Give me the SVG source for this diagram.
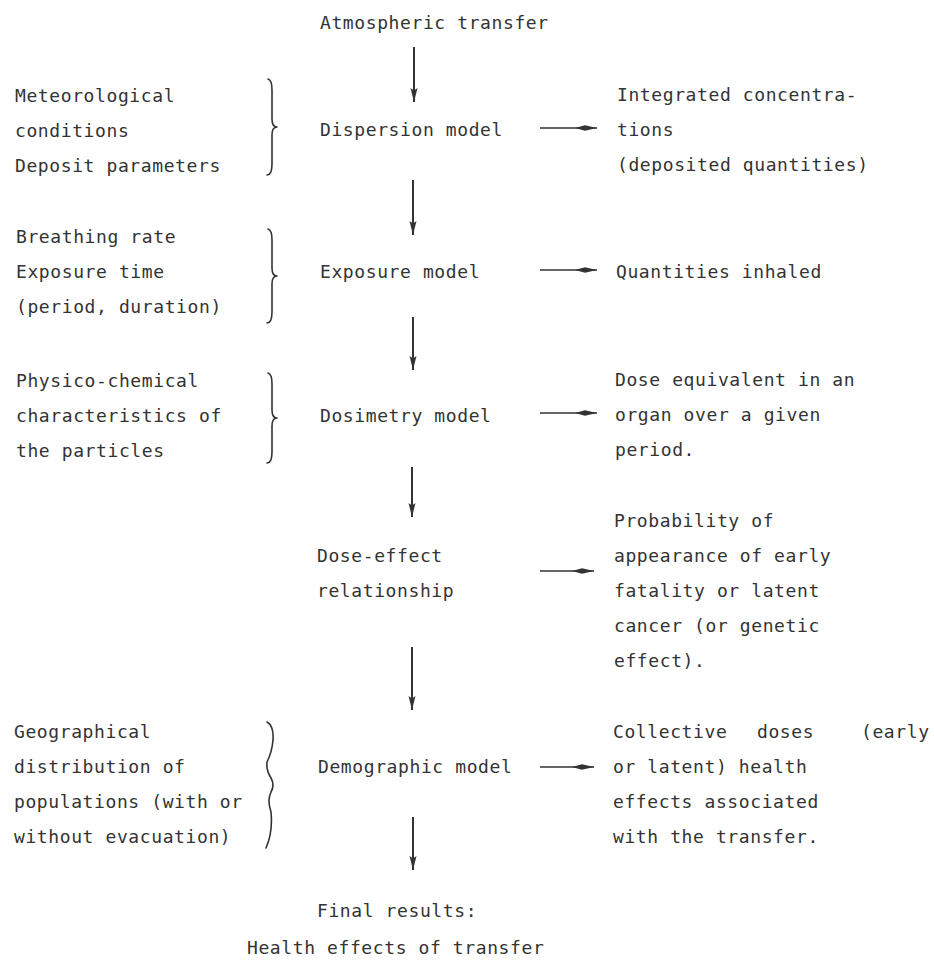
<svg xmlns="http://www.w3.org/2000/svg" width="934" height="963" viewBox="0 0 934 963">
<style>
text{font-family:"DejaVu Sans Mono","Liberation Mono",monospace;font-size:18px;letter-spacing:0.6px;fill:#333}
.ln{stroke:#333;stroke-width:1.6;fill:none}
.vl{stroke:#333;stroke-width:2;fill:none}
.br{stroke:#333;stroke-width:1.6;fill:none;stroke-linecap:round;stroke-linejoin:round}
</style>
<defs>
<marker id="vh" markerUnits="userSpaceOnUse" viewBox="0 0 14 8" refX="14" refY="4" markerWidth="14" markerHeight="8" orient="auto">
<path d="M0,0.5 L14,4 L0,7.5 L2.5,4 Z" fill="#333"/>
</marker>
<marker id="hh" markerUnits="userSpaceOnUse" viewBox="0 0 22 7" refX="22" refY="3.5" markerWidth="22" markerHeight="7" orient="auto">
<path d="M0,3.5 L10,0.8 L22,3.5 L10,6.2 Z" fill="#333"/>
</marker>
</defs>
<rect width="934" height="963" fill="#fff"/>

<g id="connectors">
<line class="vl" x1="414" y1="47" x2="414" y2="102" marker-end="url(#vh)"/>
<line class="vl" x1="413" y1="180" x2="413" y2="235" marker-end="url(#vh)"/>
<line class="vl" x1="413" y1="317" x2="413" y2="370" marker-end="url(#vh)"/>
<line class="vl" x1="412" y1="467" x2="412" y2="517" marker-end="url(#vh)"/>
<line class="vl" x1="412" y1="647" x2="412" y2="710" marker-end="url(#vh)"/>
<line class="vl" x1="413" y1="817" x2="413" y2="870" marker-end="url(#vh)"/>
<line class="ln" x1="540" y1="128" x2="597" y2="128" marker-end="url(#hh)"/>
<line class="ln" x1="540" y1="270" x2="597" y2="270" marker-end="url(#hh)"/>
<line class="ln" x1="540" y1="413" x2="597" y2="413" marker-end="url(#hh)"/>
<line class="ln" x1="540" y1="571" x2="594" y2="571" marker-end="url(#hh)"/>
<line class="ln" x1="540" y1="767" x2="594" y2="767" marker-end="url(#hh)"/>
</g>

<g id="braces">
<path class="br" d="M268,79 Q272,80 272,90 L272,119 Q272,127 277,127 Q272,127 272,135 L272,164 Q272,175 267,175"/>
<path class="br" d="M268,229 Q272,230 272,240 L272,268 Q272,276 277,276 Q272,276 272,284 L272,312 Q272,323 267,323"/>
<path class="br" d="M268,373 Q272,374 272,384 L272,410 Q272,418 277,418 Q272,418 272,426 L272,452 Q272,463 267,463"/>
<path class="br" d="M267,722 Q274,726 273,740 Q272,752 267,762 Q266,770 271,778 Q275,785 271,792 Q267,800 271,812 Q273,832 266,848"/>
</g>

<g id="n-atmospheric"><text x="320" y="29">Atmospheric transfer</text></g>
<g id="n-dispersion"><text x="320" y="136">Dispersion model</text></g>
<g id="n-exposure"><text x="320" y="278">Exposure model</text></g>
<g id="n-dosimetry"><text x="320" y="422">Dosimetry model</text></g>
<g id="n-doseeffect"><text x="317" y="562">Dose-effect</text><text x="317" y="597">relationship</text></g>
<g id="n-demographic"><text x="318" y="773">Demographic model</text></g>
<g id="n-final"><text x="317" y="917">Final results:</text><text x="247" y="954">Health effects of transfer</text></g>

<g id="in-meteo"><text x="15" y="102">Meteorological</text><text x="15" y="137">conditions</text><text x="15" y="172">Deposit parameters</text></g>
<g id="in-breathing"><text x="16" y="243">Breathing rate</text><text x="16" y="278">Exposure time</text><text x="16" y="313">(period, duration)</text></g>
<g id="in-physico"><text x="16" y="387">Physico-chemical</text><text x="16" y="422">characteristics of</text><text x="16" y="457">the particles</text></g>
<g id="in-geo"><text x="14" y="738">Geographical</text><text x="14" y="773">distribution of</text><text x="14" y="808">populations (with or</text><text x="14" y="843">without evacuation)</text></g>

<g id="out-conc"><text x="617" y="101">Integrated concentra-</text><text x="617" y="136">tions</text><text x="617" y="171">(deposited quantities)</text></g>
<g id="out-inhaled"><text x="616" y="278">Quantities inhaled</text></g>
<g id="out-dose"><text x="615" y="386">Dose equivalent in an</text><text x="615" y="421">organ over a given</text><text x="615" y="456">period.</text></g>
<g id="out-prob"><text x="614" y="527">Probability of</text><text x="614" y="562">appearance of early</text><text x="614" y="597">fatality or latent</text><text x="614" y="632">cancer (or genetic</text><text x="614" y="667">effect).</text></g>
<g id="out-collective"><text y="738"><tspan x="613">Collective</tspan><tspan x="757">doses</tspan><tspan x="861">(early</tspan></text><text x="613" y="773">or latent) health</text><text x="613" y="808">effects associated</text><text x="613" y="843">with the transfer.</text></g>
</svg>
